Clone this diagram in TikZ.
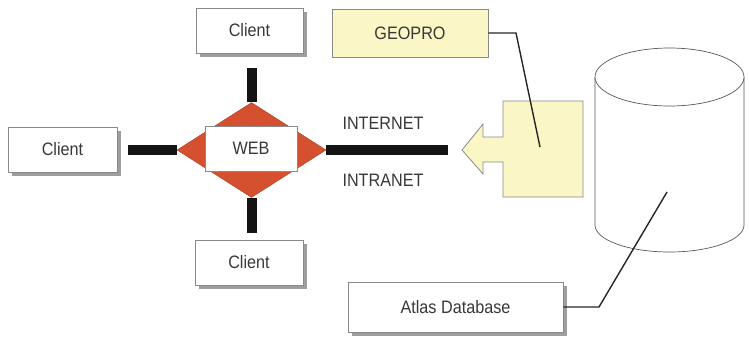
\documentclass[tikz,border=0pt]{standalone}
\usepackage{fontspec}
\setmainfont{Liberation Sans}[FakeStretch=0.9]
\usetikzlibrary{shapes.geometric,shadows}
\definecolor{paleyellow}{HTML}{FAF6C6}
\definecolor{webred}{HTML}{D4502F}
\definecolor{inkgray}{HTML}{383838}
\definecolor{edgegray}{HTML}{8A8A8A}
\tikzset{
  label text/.style={font=\fontsize{18}{21}\selectfont, text=inkgray},
  plainbox/.style={draw=edgegray, line width=0.9pt, fill=white, inner sep=0pt, label text},
  shadowbox/.style={plainbox, drop shadow={shadow xshift=4pt, shadow yshift=-4pt, fill=black!38, opacity=1}},
  yellowbox/.style={plainbox, fill=paleyellow},
  bar/.style={line width=10pt, draw=black!92},
  wire/.style={line width=1.4pt, draw=black!85},
}
\begin{document}
\begin{tikzpicture}[x=1pt, y=-1pt]
  \useasboundingbox (0,0) rectangle (749,341);

  % client boxes
  \node[shadowbox, minimum width=107pt, minimum height=45pt] (ctop) at (249.5,30.5) {Client};
  \node[shadowbox, minimum width=109pt, minimum height=45pt] (cleft) at (62.5,149.5) {Client};
  \node[shadowbox, minimum width=108pt, minimum height=45pt] (cbot) at (249,262.5) {Client};

  % application server
  \node[yellowbox, minimum width=156pt, minimum height=48pt] (geopro) at (410,33) {GEOPRO};

  % database label
  \node[shadowbox, minimum width=215pt, minimum height=50pt] (atlas) at (455.5,307) {Atlas Database};

  % web hub
  \node[diamond, fill=webred, draw=webred!80!black, line width=0.4pt, inner sep=0pt,
        minimum width=149pt, minimum height=95pt] (hub) at (251.5,150) {};
  \coordinate (barTop) at (251.5,68);
  \coordinate (barBot) at (251.5,233);
  \coordinate (barLeft) at (128,150);
  \coordinate (barRight) at (448,150);
  \draw[bar] (hub.north) -- (barTop);
  \draw[bar] (hub.south) -- (barBot);
  \draw[bar] (hub.west) -- (barLeft);
  \draw[bar] (hub.east) -- (barRight);
  \node[plainbox, minimum width=92pt, minimum height=45pt] (web) at (251,148.5) {WEB};

  \node[label text] (inet) at (383,123) {INTERNET};
  \node[label text] (intra) at (383,180) {INTRANET};

  % yellow arrow block
  \draw[draw=edgegray, line width=0.8pt, fill=paleyellow]
    (583,101) -- (503,101) -- (503,137) -- (483,137) -- (483,124) -- (462,150)
    -- (483,174) -- (483,162) -- (503,162) -- (503,197) -- (583,197) -- cycle;
  \coordinate (arrowIn) at (540,147);

  % database cylinder
  \draw[line width=0.7pt, draw=black!65, fill=white]
    (595,77) -- (595,225) arc[start angle=180, end angle=360, x radius=74.5pt, y radius=27pt]
    -- (744,77);
  \draw[line width=0.7pt, draw=black!65, fill=white] (669.5,77) ellipse[x radius=74.5pt, y radius=29pt];
  \coordinate (dbIn) at (667,192);

  % connectors
  \draw[wire] (geopro.east) -- (516,33) -- (arrowIn);
  \draw[wire] (atlas.east) -- (599,307) -- (dbIn);
\end{tikzpicture}
\end{document}
